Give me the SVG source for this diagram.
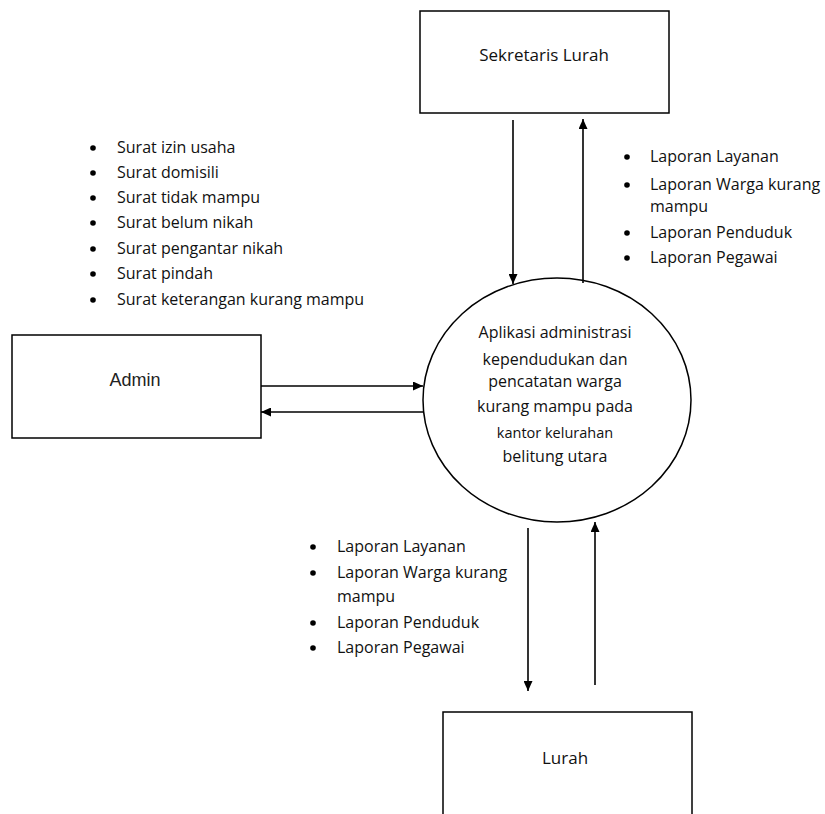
<svg xmlns="http://www.w3.org/2000/svg" width="825" height="814" viewBox="0 0 825 814">
<style>
.box{fill:#fff;stroke:#000;stroke-width:1.5}
.ln{stroke:#000;stroke-width:1.6;fill:none}
.t{font-family:"Open Sans","Liberation Sans",sans-serif;font-size:16px;fill:#111}
.c{text-anchor:middle}
.b{fill:#000}
</style>
<defs>
<marker id="ah" viewBox="0 0 10 10" refX="10" refY="5" markerWidth="10" markerHeight="9" orient="auto" markerUnits="userSpaceOnUse" preserveAspectRatio="none">
<path d="M0,0 L10,5 L0,10 z" fill="#000"/>
</marker>
</defs>
<rect width="825" height="814" fill="#fff"/>

<g id="sekretaris">
<rect class="box" x="420" y="11" width="249" height="102"/>
<text class="t c" x="544" y="61" style="font-size:17px">Sekretaris Lurah</text>
</g>

<g id="admin">
<rect class="box" x="12" y="335" width="249" height="103"/>
<text x="135" y="386" text-anchor="middle" style="font-family:'Liberation Sans',Arial,sans-serif;font-size:18px;fill:#222">Admin</text>
</g>

<g id="lurah">
<rect class="box" x="443" y="712" width="249" height="120"/>
<text class="t c" x="565" y="764" style="font-size:17px">Lurah</text>
</g>

<g id="proses">
<ellipse cx="557" cy="400" rx="134" ry="122" fill="#fff" stroke="#000" stroke-width="1.5"/>
<text class="t c" x="555" y="338">Aplikasi administrasi</text>
<text class="t c" x="555" y="365">kependudukan dan</text>
<text class="t c" x="555" y="387">pencatatan warga</text>
<text class="t c" x="555" y="412">kurang mampu pada</text>
<text class="t c" x="555" y="438" style="font-size:14.5px">kantor kelurahan</text>
<text class="t c" x="555" y="462">belitung utara</text>
</g>

<g id="connectors">
<line class="ln" x1="513" y1="120" x2="513" y2="284" marker-end="url(#ah)"/>
<line class="ln" x1="583" y1="283" x2="583" y2="119" marker-end="url(#ah)"/>
<line class="ln" x1="261" y1="386" x2="423" y2="386" marker-end="url(#ah)"/>
<line class="ln" x1="423" y1="412" x2="261" y2="412" marker-end="url(#ah)"/>
<line class="ln" x1="528" y1="528" x2="528" y2="691" marker-end="url(#ah)"/>
<line class="ln" x1="595" y1="685" x2="595" y2="522" marker-end="url(#ah)"/>
</g>

<g id="list-surat">
<circle class="b" cx="93" cy="148" r="2.8"/><text class="t" x="117" y="153">Surat izin usaha</text>
<circle class="b" cx="93" cy="173" r="2.8"/><text class="t" x="117" y="178">Surat domisili</text>
<circle class="b" cx="93" cy="198" r="2.8"/><text class="t" x="117" y="203">Surat tidak mampu</text>
<circle class="b" cx="93" cy="223" r="2.8"/><text class="t" x="117" y="228">Surat belum nikah</text>
<circle class="b" cx="93" cy="249" r="2.8"/><text class="t" x="117" y="254">Surat pengantar nikah</text>
<circle class="b" cx="93" cy="274" r="2.8"/><text class="t" x="117" y="279">Surat pindah</text>
<circle class="b" cx="93" cy="300" r="2.8"/><text class="t" x="117" y="305">Surat keterangan kurang mampu</text>
</g>

<g id="list-laporan-sekretaris">
<circle class="b" cx="627" cy="157" r="2.8"/><text class="t" x="650" y="162">Laporan Layanan</text>
<circle class="b" cx="627" cy="185" r="2.8"/><text class="t" x="650" y="190">Laporan Warga kurang</text>
<text class="t" x="650" y="212">mampu</text>
<circle class="b" cx="627" cy="233" r="2.8"/><text class="t" x="650" y="238">Laporan Penduduk</text>
<circle class="b" cx="627" cy="258" r="2.8"/><text class="t" x="650" y="263">Laporan Pegawai</text>
</g>

<g id="list-laporan-lurah">
<circle class="b" cx="313" cy="547" r="2.8"/><text class="t" x="337" y="552">Laporan Layanan</text>
<circle class="b" cx="313" cy="573" r="2.8"/><text class="t" x="337" y="578">Laporan Warga kurang</text>
<text class="t" x="337" y="602">mampu</text>
<circle class="b" cx="313" cy="623" r="2.8"/><text class="t" x="337" y="628">Laporan Penduduk</text>
<circle class="b" cx="313" cy="648" r="2.8"/><text class="t" x="337" y="653">Laporan Pegawai</text>
</g>
</svg>
